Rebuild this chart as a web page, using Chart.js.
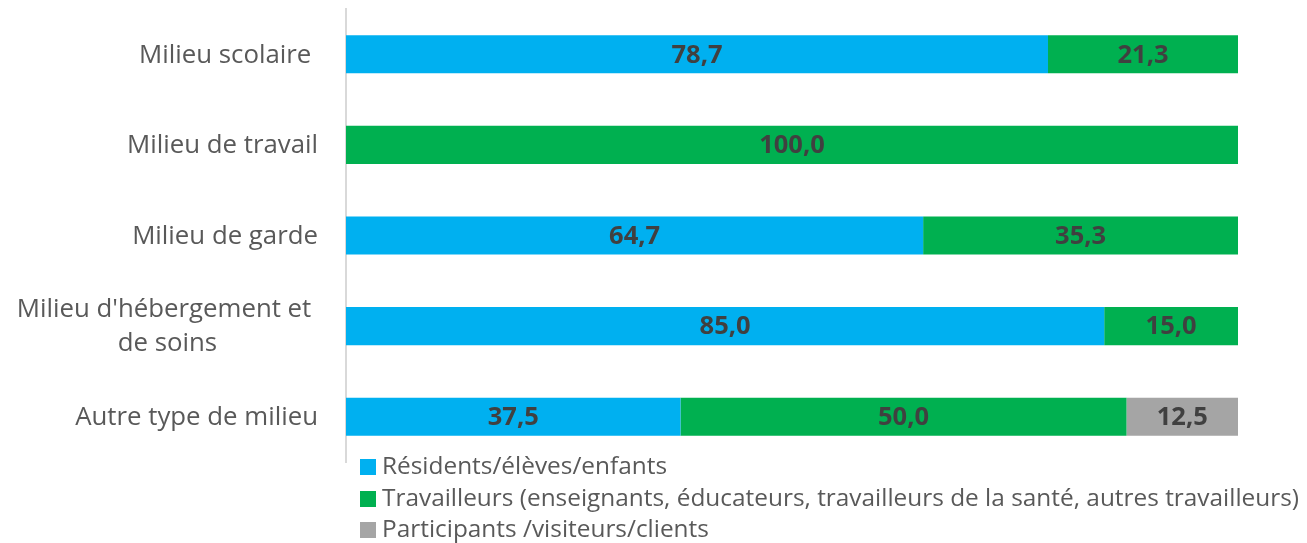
<!DOCTYPE html>
<html>
<head>
<meta charset="utf-8">
<script src="https://cdn.jsdelivr.net/npm/chart.js@4.4.1/dist/chart.umd.min.js"></script>
<style>
  html, body { margin: 0; padding: 0; background: #fff; }
  #wrap { position: relative; width: 1307px; height: 543px; }
  #legend { position: absolute; left: 360px; top: 449px; font-family: "Open Sans", sans-serif; font-size: 24.4px; color: #595959; }
  #legend div { height: 31.5px; line-height: 31.5px; white-space: nowrap; }
  #legend span { display: inline-block; width: 16px; height: 16px; margin-right: 6px; vertical-align: -1px; }
</style>
</head>
<body>
<div id="wrap">
  <canvas id="chart" width="1307" height="543"></canvas>
  <div id="legend"></div>
</div>
<script>
var categories = ['Milieu scolaire ', 'Milieu de travail', 'Milieu de garde', ["Milieu d'hébergement et ", 'de soins'], 'Autre type de milieu'];
var residents = [78.7, 0, 64.7, 85.0, 37.5];
var travailleurs = [21.3, 100.0, 35.3, 15.0, 50.0];
var participants = [0, 0, 0, 0, 12.5];
var seriesNames = ['Résidents/élèves/enfants', 'Travailleurs (enseignants, éducateurs, travailleurs de la santé, autres travailleurs)', 'Participants /visiteurs/clients'];
var seriesColors = ['#00B0F0', '#00B050', '#A5A5A5'];

var fontFamily = '"Open Sans", sans-serif';

// valeurs au centre de chaque segment
var valueLabels = {
    id: 'valueLabels',
    afterDatasetsDraw: function(chart) {
        var ctx = chart.ctx;
        ctx.save();
        ctx.font = 'bold 25.5px ' + fontFamily;
        ctx.fillStyle = '#404040';
        ctx.textAlign = 'center';
        ctx.textBaseline = 'middle';
        chart.data.datasets.forEach(function(ds, i) {
            chart.getDatasetMeta(i).data.forEach(function(bar, j) {
                var v = ds.data[j];
                if (!v) return;
                var x = (bar.x + bar.base) / 2;
                ctx.fillText(v.toFixed(1).replace('.', ','), x, bar.y + 1);
            });
        });
        ctx.restore();
    }
};

// étiquettes des catégories (alignées à droite, lignes multiples centrées)
var categoryLabels = {
    id: 'categoryLabels',
    afterDraw: function(chart) {
        var ctx = chart.ctx;
        var yScale = chart.scales.y;
        var right = 318;
        var lineH = 34;
        ctx.save();
        ctx.font = '25.8px ' + fontFamily;
        ctx.fillStyle = '#595959';
        ctx.textBaseline = 'middle';
        categories.forEach(function(label, i) {
            var y = yScale.getPixelForValue(i) + 1;
            var lines = Array.isArray(label) ? label : [label];
            var widest = Math.max.apply(null, lines.map(function(l) { return ctx.measureText(l).width; }));
            var center = right - widest / 2;
            ctx.textAlign = 'center';
            lines.forEach(function(l, k) {
                var ly = y + (k - (lines.length - 1) / 2) * lineH;
                ctx.fillText(l, center, ly);
            });
        });
        ctx.restore();
    }
};

var datasets = [residents, travailleurs, participants].map(function(d, i) {
    return {
        label: seriesNames[i],
        data: d,
        backgroundColor: seriesColors[i],
        borderWidth: 0,
        categoryPercentage: 1,
        barPercentage: 0.42
    };
});

var chart = new Chart(document.getElementById('chart'), {
    type: 'bar',
    data: { labels: categories, datasets: datasets },
    plugins: [valueLabels, categoryLabels],
    options: {
        indexAxis: 'y',
        responsive: false,
        animation: false,
        layout: { padding: { top: 9, right: 69, bottom: 81, left: 0 } },
        plugins: { legend: { display: false }, tooltip: { enabled: false } },
        scales: {
            x: {
                stacked: true,
                min: 0,
                max: 100,
                display: false
            },
            y: {
                stacked: true,
                grid: { display: false },
                border: { display: true, color: '#D9D9D9', width: 2 },
                ticks: { display: false },
                afterFit: function(scale) { scale.width = 346; }
            }
        }
    }
});

var legend = document.getElementById('legend');
seriesNames.forEach(function(name, i) {
    var row = document.createElement('div');
    row.innerHTML = '<span style="background:' + seriesColors[i] + '"></span>' + name;
    legend.appendChild(row);
});
</script>
</body>
</html>
